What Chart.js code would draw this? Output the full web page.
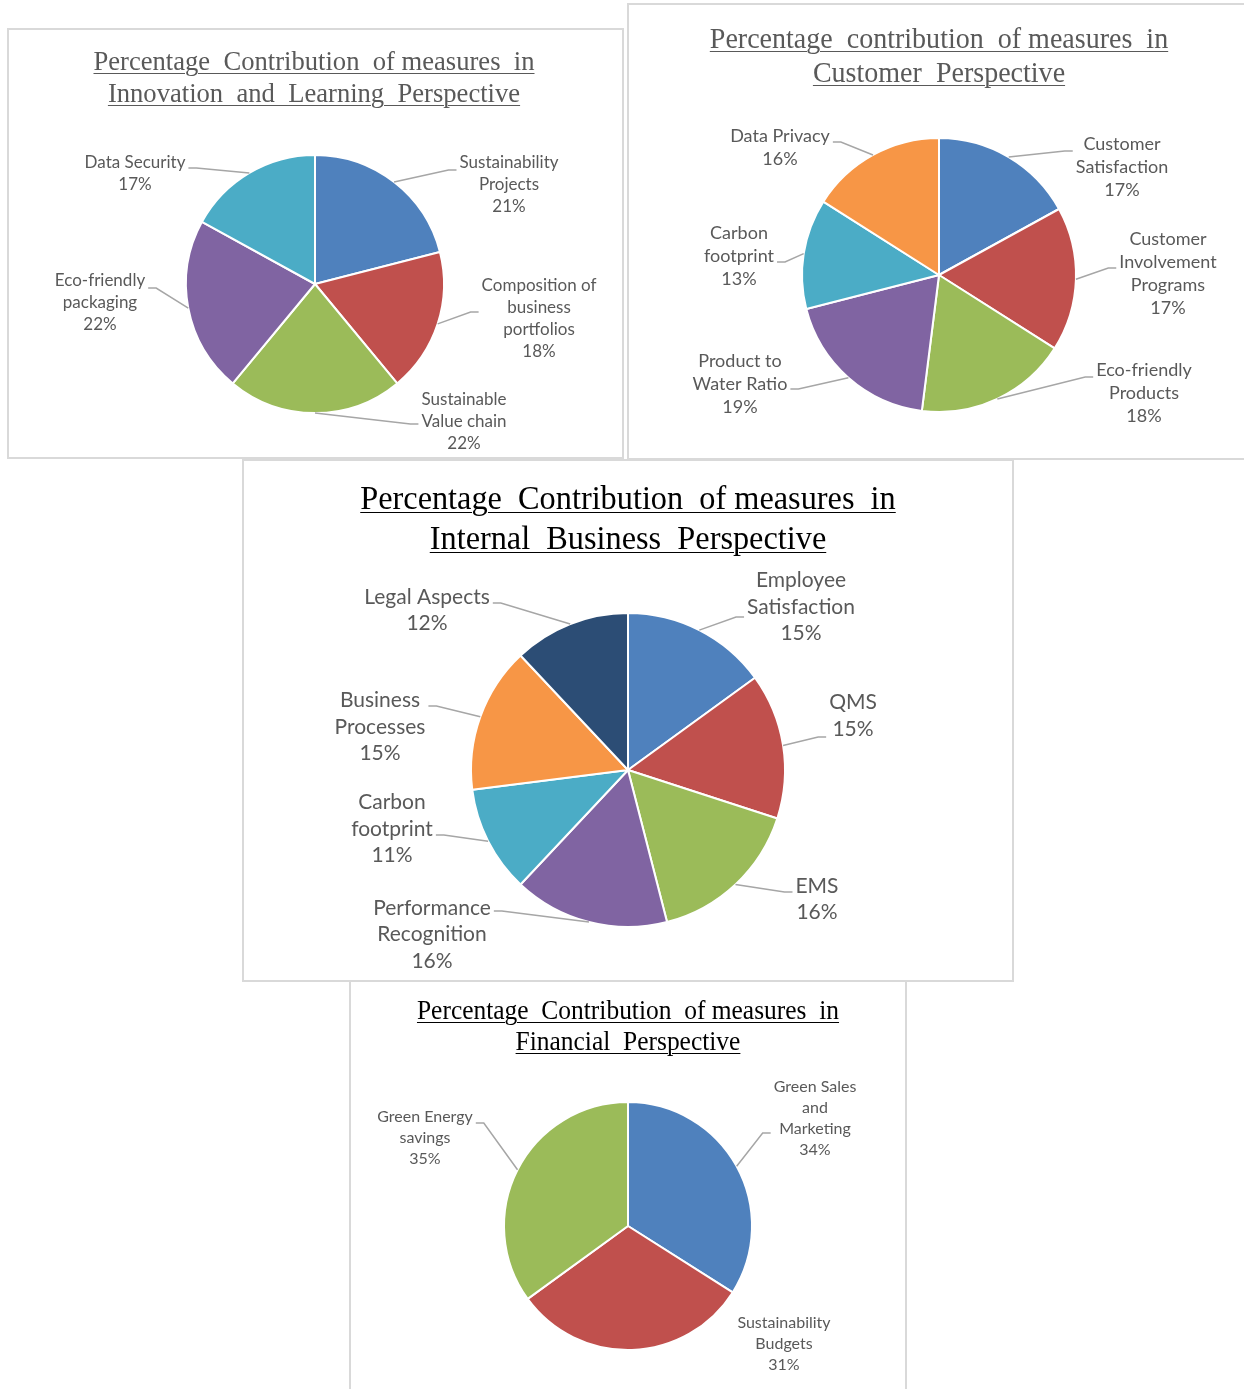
<!DOCTYPE html>
<html>
<head>
<meta charset="utf-8">
<script src="https://cdn.jsdelivr.net/npm/chart.js@4.4.0/dist/chart.umd.min.js"></script>
<style>
  body { margin: 0; background: #fff; width: 1244px; height: 1389px; position: relative; overflow: hidden; }
  .box { position: absolute; border: 2px solid #d9d9d9; box-sizing: border-box; background: #fff; }
  canvas { position: absolute; }
  .title {
    position: absolute; width: 700px; text-align: center; white-space: pre;
    font-family: "Liberation Serif", "Times New Roman", serif;
    text-decoration: underline; text-decoration-thickness: 1px; text-underline-offset: 3px;
    transform: scaleX(0.95);
  }
</style>
</head>
<body>
<div class="box" style="left:7px;top:28px;width:617px;height:431px"></div>
<div class="box" style="left:627px;top:3px;width:630px;height:457px"></div>
<div class="box" style="left:242px;top:459px;width:772px;height:523px"></div>
<div class="box" style="left:349px;top:980px;width:558px;height:430px"></div>

<canvas id="innovChart" width="617" height="430" style="left:7px;top:28px"></canvas>
<canvas id="custChart" width="617" height="456" style="left:627px;top:3px"></canvas>
<canvas id="internalChart" width="772" height="522" style="left:242px;top:459px"></canvas>
<canvas id="finChart" width="558" height="409" style="left:349px;top:980px"></canvas>

<div class="title" style="left:-36px;top:45px;font-size:28px;line-height:32px;color:#595959">Percentage  Contribution  of measures  in
Innovation  and  Learning  Perspective</div>
<div class="title" style="left:589px;top:21px;font-size:29.5px;line-height:34px;color:#595959">Percentage  contribution  of measures  in
Customer  Perspective</div>
<div class="title" style="left:278px;top:478px;font-size:34px;line-height:40px;color:#000">Percentage  Contribution  of measures  in
Internal  Business  Perspective</div>
<div class="title" style="left:278px;top:995px;font-size:26.8px;line-height:31px;color:#000">Percentage  Contribution  of measures  in
Financial  Perspective</div>

<script>
// Innovation and Learning Perspective
const innovLabels = [
  ['Sustainability', 'Projects'],
  ['Composition of', 'business', 'portfolios'],
  ['Sustainable', 'Value chain'],
  ['Eco-friendly', 'packaging'],
  ['Data Security'],
];
const innovValues = [21, 18, 22, 22, 17];

// Customer Perspective
const custLabels = [
  ['Customer', 'Satisfaction'],
  ['Customer', 'Involvement', 'Programs'],
  ['Eco-friendly', 'Products'],
  ['Product to', 'Water Ratio'],
  ['Carbon', 'footprint'],
  ['Data Privacy'],
];
const custValues = [17, 17, 18, 19, 13, 16];

// Internal Business Perspective
const internalLabels = [
  ['Employee', 'Satisfaction'],
  ['QMS'],
  ['EMS'],
  ['Performance', 'Recognition'],
  ['Carbon', 'footprint'],
  ['Business', 'Processes'],
  ['Legal Aspects'],
];
const internalValues = [15, 15, 16, 16, 11, 15, 12];

// Financial Perspective
const finLabels = [
  ['Green Sales', 'and', 'Marketing'],
  ['Sustainability', 'Budgets'],
  ['Green Energy', 'savings'],
];
const finValues = [34, 31, 35];

const sliceColors = ['#4F81BD', '#C0504D', '#9BBB59', '#8064A2', '#4BACC6', '#F79646', '#2C4D75'];

// outside labels with leader lines, excel style
const calloutPlugin = {
  id: 'callouts',
  afterDatasetsDraw(chart, args, opts) {
    const ctx = chart.ctx;
    const meta = chart.getDatasetMeta(0);
    const values = chart.data.datasets[0].data;
    const total = values.reduce((a, b) => a + b, 0);
    ctx.save();
    ctx.font = opts.size + 'px Lato';
    ctx.textAlign = 'center';
    ctx.textBaseline = 'middle';
    meta.data.forEach((arc, i) => {
      const p = arc.getProps(['x', 'y', 'startAngle', 'endAngle', 'outerRadius'], true);
      const mid = (p.startAngle + p.endAngle) / 2;
      const px = p.x + Math.cos(mid) * p.outerRadius;
      const py = p.y + Math.sin(mid) * p.outerRadius;
      const [dx, dy, ay, leader] = opts.place[i];
      const lines = [].concat(chart.data.labels[i], Math.round((values[i] / total) * 100) + '%');
      const lh = opts.lineHeight;
      const cx = p.x + dx;
      const cy = p.y + dy;
      const w = Math.max(...lines.map((t) => ctx.measureText(t).width));
      const top = cy - (lines.length * lh) / 2;
      ctx.fillStyle = '#595959';
      lines.forEach((t, k) => ctx.fillText(t, cx, top + lh * (k + 0.5)));
      if (leader !== false) {
        const side = dx > 0 ? -1 : 1;
        const ex = cx + side * (w / 2 + 3);
        const ey = cy + ay;
        ctx.strokeStyle = '#a6a6a6';
        ctx.lineWidth = 1.5;
        ctx.beginPath();
        ctx.moveTo(px, py);
        ctx.lineTo(ex + side * 8, ey);
        ctx.lineTo(ex, ey);
        ctx.stroke();
      }
    });
    ctx.restore();
  },
};

function createPie(id, labels, values, cfg) {
  const canvas = document.getElementById(id);
  const W = canvas.width;
  const H = canvas.height;
  const [cx, cy] = cfg.center;
  const r = cfg.radius;
  new Chart(canvas.getContext('2d'), {
    type: 'pie',
    data: {
      labels: labels,
      datasets: [
        {
          data: values,
          backgroundColor: sliceColors.slice(0, values.length),
          borderColor: '#ffffff',
          borderWidth: 2,
        },
      ],
    },
    options: {
      responsive: false,
      animation: false,
      radius: r,
      layout: {
        padding: { left: cx - r, right: W - cx - r, top: cy - r, bottom: H - cy - r },
      },
      plugins: {
        legend: { display: false },
        title: { display: false },
        tooltip: { enabled: false },
        callouts: { size: cfg.size, lineHeight: cfg.lineHeight, place: cfg.place },
      },
    },
    plugins: [calloutPlugin],
  });
}

// label placement: [dx, dy from pie centre, leader y from label centre, leader?]
createPie('innovChart', innovLabels, innovValues, {
  center: [308, 256], radius: 129, size: 17, lineHeight: 22,
  place: [[194, -99, -15], [224, 35, -7], [149, 138, 2], [-215, 19, -15], [-180, -110, -6]],
});
createPie('custChart', custLabels, custValues, {
  center: [312, 272], radius: 137, size: 18, lineHeight: 23,
  place: [[183, -108, -16], [229, -1.5, -5.5], [205, 118, -16], [-199, 109, 5], [-200, -19, 6], [-159, -127.5, -5.5]],
});
createPie('internalChart', internalLabels, internalValues, {
  center: [386, 311], radius: 157, size: 21, lineHeight: 26.5,
  place: [[173, -163, 10], [225, -54.5, 21.5], [189, 129, -7], [-196, 164.5, -23.5], [-236, 59, 6], [-248, -43, -21], [-201, -160, -7]],
});
createPie('finChart', finLabels, finValues, {
  center: [279, 246], radius: 124, size: 16, lineHeight: 21,
  place: [[187, -107.5, 14.5], [156, 118, 0, false], [-203, -88, -15]],
});
</script>
</body>
</html>
